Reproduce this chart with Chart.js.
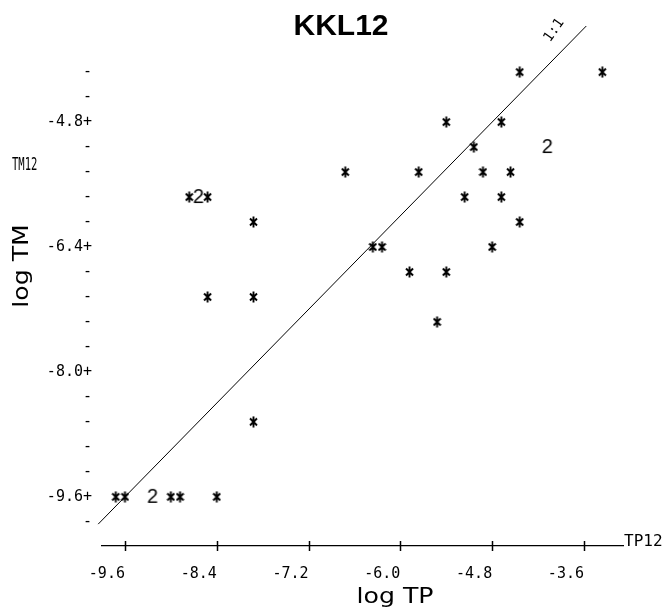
<!DOCTYPE html>
<html><head><meta charset="utf-8">
<script src="https://cdn.jsdelivr.net/npm/chart.js@4.4.0/dist/chart.umd.min.js"></script>
<style>html,body{margin:0;padding:0;background:#fff;}canvas{display:block;}</style>
</head><body>
<canvas id="c" width="664" height="609"></canvas>
<script>
// ---- data ----
const tpSingle = [-4.44, -3.36, -5.40, -4.68, -5.04, -6.72, -5.76, -4.92, -4.56,
                  -8.76, -8.52, -5.16, -4.68, -7.92, -4.44, -6.36, -6.24, -4.80,
                  -5.88, -5.40, -8.52, -7.92, -5.52, -7.92, -9.72, -9.60, -9.00, -8.88, -8.40];
const tmSingle = [-4.16, -4.16, -4.80, -4.80, -5.12, -5.44, -5.44, -5.44, -5.44,
                  -5.76, -5.76, -5.76, -5.76, -6.08, -6.08, -6.40, -6.40, -6.40,
                  -6.72, -6.72, -7.04, -7.04, -7.36, -8.64, -9.60, -9.60, -9.60, -9.60, -9.60];
const tpDouble = [-4.08, -8.64, -9.24];
const tmDouble = [-5.12, -5.76, -9.60];
const oneToOne = [-9.95, -3.57];
const xTicks = [-9.6, -8.4, -7.2, -6.0, -4.8, -3.6];
const xTickLabels = ['-9.6', '-8.4', '-7.2', '-6.0', '-4.8', '-3.6'];
const yTicks = [-9.92, -9.60, -9.28, -8.96, -8.64, -8.32, -8.00, -7.68, -7.36, -7.04,
                -6.72, -6.40, -6.08, -5.76, -5.44, -5.12, -4.80, -4.48, -4.16];
const yMajor = [-9.6, -8.0, -6.4, -4.8];
const yMajorLabels = ['-9.6+', '-8.0+', '-6.4+', '-4.8+'];

// ---- marker glyphs ----
const starImg = (() => {
  const c = document.createElement('canvas'); c.width = 9; c.height = 12;
  const g = c.getContext('2d'); g.strokeStyle = '#000'; g.lineWidth = 1.9;
  g.beginPath();
  g.moveTo(4.5, 0.5); g.lineTo(4.5, 11.5);
  g.moveTo(1, 2.5); g.lineTo(8, 9.5);
  g.moveTo(1, 9.5); g.lineTo(8, 2.5);
  g.stroke();
  return c;
})();
const twoImg = (() => {
  const c = document.createElement('canvas'); c.width = 14; c.height = 18;
  const g = c.getContext('2d'); g.fillStyle = '#000';
  g.font = '20px "Liberation Sans"'; g.textAlign = 'center'; g.textBaseline = 'middle';
  g.fillText('2', 7, 9.5);
  return c;
})();

const extras = {
  id: 'extras',
  afterDraw(chart) {
    const ctx = chart.ctx, xs = chart.scales.x, ys = chart.scales.y;
    const yAxis = chart.chartArea.bottom;
    ctx.save();
    ctx.strokeStyle = '#000'; ctx.fillStyle = '#000'; ctx.lineWidth = 1.5;
    // "+" marks on the x axis
    xTicks.forEach(v => {
      const px = Math.round(xs.getPixelForValue(v)) + 0.5;
      ctx.beginPath(); ctx.moveTo(px, yAxis - 5); ctx.lineTo(px, yAxis + 5); ctx.stroke();
    });
    // title
    ctx.font = 'bold 30px "Liberation Sans"'; ctx.textAlign = 'center'; ctx.textBaseline = 'middle';
    ctx.fillText('KKL12', 341, 27);
    // TM12
    ctx.save(); ctx.translate(12, 166); ctx.scale(0.62, 1);
    ctx.font = '17px "DejaVu Sans Mono"'; ctx.textAlign = 'left'; ctx.textBaseline = 'middle';
    ctx.fillText('TM12', 0, 0); ctx.restore();
    // TP12
    ctx.font = '16px "DejaVu Sans Mono"'; ctx.textAlign = 'left'; ctx.textBaseline = 'middle';
    ctx.fillText('TP12', 624, yAxis - 4);
    // axis titles
    ctx.save(); ctx.translate(395, 603); ctx.scale(1.2, 1);
    ctx.font = '21px "DejaVu Sans"'; ctx.textAlign = 'center'; ctx.textBaseline = 'alphabetic';
    ctx.fillText('log TP', 0, 0); ctx.restore();
    ctx.save(); ctx.translate(28, 266); ctx.rotate(-Math.PI / 2); ctx.scale(1.2, 1);
    ctx.font = '21px "DejaVu Sans"'; ctx.textAlign = 'center'; ctx.textBaseline = 'alphabetic';
    ctx.fillText('log TM', 0, 0); ctx.restore();
    // 1:1 label along the line
    const lx = xs.getPixelForValue(-3.78), ly = ys.getPixelForValue(-3.78);
    ctx.save(); ctx.translate(lx - 16, ly - 12); ctx.rotate(-55 * Math.PI / 180);
    ctx.font = '14px "DejaVu Sans Mono"'; ctx.textAlign = 'center'; ctx.textBaseline = 'middle';
    ctx.fillText('1:1', 0, 0); ctx.restore();
    ctx.restore();
  }
};

new Chart(document.getElementById('c'), {
  type: 'scatter',
  data: {
    datasets: [
      { label: 'single', data: tpSingle.map((x, i) => ({ x, y: tmSingle[i] })),
        pointStyle: starImg, pointRadius: 5, showLine: false, clip: false },
      { label: 'double', data: tpDouble.map((x, i) => ({ x, y: tmDouble[i] })),
        pointStyle: twoImg, pointRadius: 6, showLine: false, clip: false },
      { type: 'line', label: '1:1', data: oneToOne.map(v => ({ x: v, y: v })),
        borderColor: '#000', borderWidth: 1, pointRadius: 0, fill: false, clip: false }
    ]
  },
  options: {
    responsive: false, animation: false, devicePixelRatio: 1,
    layout: { padding: { top: 10, right: 41, bottom: 0, left: 0 } },
    plugins: { legend: { display: false }, tooltip: { enabled: false }, title: { display: false } },
    scales: {
      x: {
        type: 'linear', position: 'bottom', min: -9.9, max: -3.09,
        afterBuildTicks: s => { s.ticks = xTicks.map(v => ({ value: v })); },
        afterFit: s => { s.height = 63; },
        ticks: { callback: (v, i) => xTickLabels[i], autoSkip: false, maxRotation: 0, minRotation: 0,
                 align: 'end', padding: 19, color: '#000', font: { family: 'DejaVu Sans Mono', size: 15 } },
        grid: { display: false, drawTicks: false, drawOnChartArea: false },
        border: { display: true, color: '#000', width: 1.2, dash: [7, 3] }
      },
      y: {
        type: 'linear', position: 'left', min: -10.23, max: -3.48,
        afterBuildTicks: s => { s.ticks = yTicks.map(v => ({ value: v })); },
        afterFit: s => { s.width = 102; },
        ticks: { callback: (v, i) => { const k = yMajor.indexOf(yTicks[i]); return k >= 0 ? yMajorLabels[k] : '-'; },
                 autoSkip: false, padding: 10, color: '#000', font: { family: 'DejaVu Sans Mono', size: 15 } },
        grid: { display: false, drawTicks: false, drawOnChartArea: false },
        border: { display: false }
      }
    }
  },
  plugins: [extras]
});
</script>
</body></html>
